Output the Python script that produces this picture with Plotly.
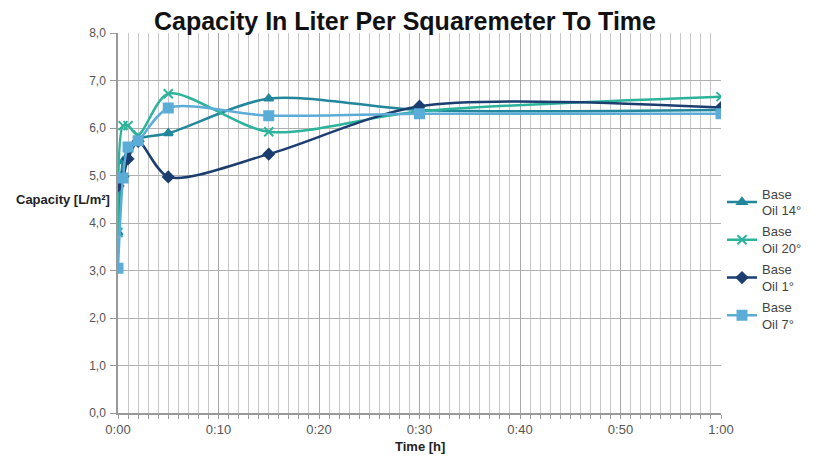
import plotly.graph_objects as go

time_min = [0, 0.5, 1, 2, 5, 15, 30, 60]
oil14 = [3.8, 5.3, 5.55, 5.77, 5.89, 6.62, 6.38, 6.38]
oil20 = [3.8, 6.05, 6.05, 5.85, 6.72, 5.92, 6.35, 6.66]
oil1 = [4.78, 4.98, 5.35, 5.72, 4.97, 5.45, 6.46, 6.43]
oil7 = [3.05, 4.95, 5.6, 5.73, 6.42, 6.26, 6.3, 6.3]

names = ["Base<br>Oil 14°", "Base<br>Oil 20°", "Base<br>Oil 1°", "Base<br>Oil 7°"]
series = [oil14, oil20, oil1, oil7]
colors = ["#22869c", "#2bb39b", "#1b3d70", "#5cacd8"]
symbols = ["triangle-up", "x-thin-open", "diamond", "square"]
sizes = [8, 9, 8, 9]

x_tickvals = [0, 10, 20, 30, 40, 50, 60]
x_ticktext = ["0:00", "0:10", "0:20", "0:30", "0:40", "0:50", "1:00"]

W, H = 803, 449
L, R, T, B = 110, 0, 25, 44
paper_w = W - L - R
plot_h = H - T - B
x_end = (713 - L) / paper_w

fig = go.Figure()
for i, (name, ys, c, s, sz) in enumerate(zip(names, series, colors, symbols, sizes)):
    fig.add_trace(go.Scatter(
        x=time_min, y=ys, name=name, mode="lines+markers", legendgroup=f"g{i}",
        line=dict(color=c, width=2.5, shape="spline", smoothing=0.8),
        marker=dict(symbol=s, size=sz, color=c, line=dict(color=c, width=2)),
    ))

fig.update_layout(
    width=W, height=H,
    margin=dict(l=L, r=R, t=T, b=B),
    paper_bgcolor="white", plot_bgcolor="white",
    separators=",.",
    font=dict(family="Liberation Sans, Arial, sans-serif", color="#444", size=12),
    title=dict(text="<b>Capacity In Liter Per Squaremeter To Time</b>",
               x=(405 - 8) / W, xanchor="center", y=1 - 13 / H, yanchor="middle",
               font=dict(family="Liberation Sans, Arial", size=25, color="#111")),
    legend=dict(x=1 - 4 / paper_w, y=0.617, xanchor="right", yanchor="top", traceorder="grouped",
                font=dict(size=13, color="#444"), tracegroupgap=1, bgcolor="rgba(0,0,0,0)"),
    showlegend=True,
)
fig.update_xaxes(
    domain=[0, x_end], automargin=False,
    range=[0, 60], tickvals=x_tickvals, ticktext=x_ticktext,
    showgrid=True, gridcolor="#a8a8a8", gridwidth=1,
    minor=dict(dtick=1, showgrid=True, gridcolor="#c8c8c8", ticks="outside", ticklen=4, tickcolor="#999"),
    ticks="outside", ticklen=4, tickcolor="#999", ticklabelstandoff=0,
    showline=True, linecolor="#999", linewidth=1.5, mirror=False,
    zeroline=False,
    tickfont=dict(size=13, color="#555"),
)
fig.update_yaxes(
    automargin=False,
    range=[0, 8], dtick=1, tickformat=".1f",
    showgrid=True, gridcolor="#b0b0b0", gridwidth=1,
    ticks="outside", ticklen=6, tickcolor="#999", ticklabelstandoff=2,
    showline=True, linecolor="#999", linewidth=1.5,
    zeroline=False,
    tickfont=dict(size=12, color="#555"),
)
fig.add_annotation(text="<b>Capacity [L/m²]</b>", xref="paper", yref="paper",
                   x=-6 / paper_w, y=4.5 / 8.0, xanchor="right", yanchor="middle",
                   showarrow=False, font=dict(size=13, color="#222"))
fig.add_annotation(text="<b>Time [h]</b>", xref="paper", yref="paper",
                   x=x_end / 2, y=-33 / plot_h, xanchor="center", yanchor="middle",
                   showarrow=False, font=dict(size=13, color="#222"))

fig.write_html("out.html")
